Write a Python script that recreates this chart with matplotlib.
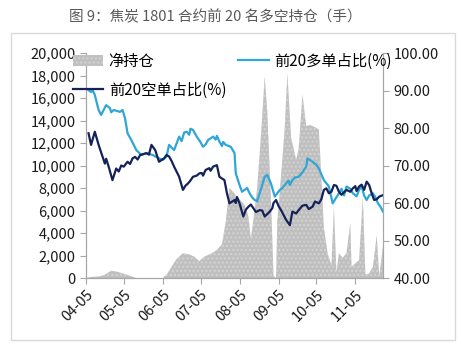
import pandas as pd
import matplotlib
matplotlib.use("Agg")
import matplotlib.pyplot as plt
import matplotlib.dates as mdates
from matplotlib.ticker import FuncFormatter
from matplotlib.patches import Rectangle

plt.rcParams['font.family'] = ['Noto Sans CJK SC', 'DejaVu Sans']

# 净持仓 (left axis, 手)
net_dates = ["04-05", "04-08", "04-16", "04-20", "04-25", "04-30", "05-06", "05-11", "05-15",
             "06-05", "06-08", "06-12", "06-16", "06-21", "06-26", "06-30", "07-04", "07-08",
             "07-14", "07-18", "07-22", "07-25", "07-28", "08-01", "08-05", "08-09", "08-12",
             "08-14", "08-17", "08-19", "08-22", "08-25", "08-27", "08-30", "09-01", "09-03",
             "09-04", "09-08", "09-10", "09-12", "09-15", "09-19", "09-21", "09-24", "09-27",
             "09-30", "10-04", "10-07", "10-09", "10-11", "10-14", "10-17", "10-19", "10-21",
             "10-23", "10-26", "10-29", "11-01", "11-02", "11-05", "11-08", "11-11", "11-13",
             "11-16", "11-19", "11-22", "11-24", "11-27"]
net_pos = [0, 80, 150, 300, 650, 550, 350, 150, 0,
           0, 300, 1000, 1700, 2200, 2100, 1900, 1500, 1900,
           2200, 2500, 3000, 5000, 8000, 7500, 7000, 6500, 5500,
           3500, 6000, 8000, 12600, 17900, 14900, 6900, 200, 0,
           5000, 10500, 13500, 18200, 12500, 10500, 11500, 16300, 13500,
           13600, 13400, 13200, 9000, 4500, 2200, 1100, 6300, 500,
           2200, 1800, 2200, 4900, 1000, 1300, 1600, 7200, 300,
           400, 1000, 3800, 200, 2800]

# 前20多单占比(%)
long_dates = ["04-07", "04-09", "04-10", "04-12", "04-15", "04-17", "04-21", "04-24", "04-25", "04-27",
              "05-02", "05-04", "05-06", "05-08", "05-11", "05-15", "05-19", "05-23", "05-28", "06-02",
              "06-05", "06-08", "06-10", "06-14", "06-18", "06-20", "06-22", "06-24", "06-26", "06-27",
              "06-29", "07-02", "07-05", "07-07", "07-09", "07-11", "07-15", "07-17", "07-18", "07-20",
              "07-22", "07-23", "07-25", "07-29", "08-01", "08-02", "08-05", "08-07", "08-09", "08-11",
              "08-13", "08-15", "08-17", "08-19", "08-21", "08-25", "08-27", "08-30", "09-02", "09-06",
              "09-08", "09-11", "09-13", "09-14", "09-16", "09-18", "09-21", "09-24", "09-27", "09-28",
              "10-02", "10-05", "10-07", "10-11", "10-15", "10-18", "10-20", "10-23", "10-25", "10-27",
              "10-29", "11-01", "11-03", "11-06", "11-08", "11-10", "11-12", "11-14", "11-16", "11-19",
              "11-21", "11-23", "11-25", "11-27"]
long_pct = [90.1, 89.6, 90.3, 88.8, 84.8, 83.5, 86.1, 85.3, 84.2, 84.8,
            84.3, 84.8, 82.6, 78.6, 76.8, 74.1, 72.8, 73.3, 72.8, 71.9,
            71.5, 72.4, 75.5, 74.1, 77.7, 76.5, 78.8, 79.0, 78.2, 79.8,
            79.5, 77.7, 76.2, 75.0, 75.6, 76.8, 77.7, 76.9, 77.9, 76.4,
            75.2, 76.3, 75.5, 75.0, 73.3, 67.9, 64.8, 63.0, 63.5, 64.0,
            62.6, 61.5, 60.8, 60.5, 62.6, 67.0, 67.5, 65.2, 61.7, 63.5,
            64.0, 65.2, 66.0, 64.8, 66.1, 66.8, 67.0, 68.2, 69.7, 71.9,
            71.0, 70.2, 69.2, 66.1, 64.4, 59.9, 61.0, 62.6, 63.8, 62.0,
            64.4, 63.8, 62.6, 61.8, 63.5, 64.5, 62.0, 60.8, 62.0, 62.6,
            61.5, 59.9, 59.0, 57.7]

# 前20空单占比(%)
short_dates = ["04-07", "04-09", "04-12", "04-15", "04-19", "04-20", "04-21", "04-23", "04-26", "04-29",
               "05-01", "05-03", "05-05", "05-08", "05-10", "05-12", "05-14", "05-16", "05-18", "05-20",
               "05-23", "05-25", "05-27", "05-30", "06-02", "06-06", "06-08", "06-10", "06-12", "06-14",
               "06-18", "06-21", "06-23", "06-25", "06-27", "06-29", "07-02", "07-04", "07-06", "07-07",
               "07-09", "07-12", "07-13", "07-15", "07-18", "07-20", "07-24", "07-26", "07-28", "08-01",
               "08-02", "08-03", "08-05", "08-08", "08-10", "08-12", "08-14", "08-16", "08-18", "08-21",
               "08-23", "08-25", "08-29", "08-31", "09-01", "09-03", "09-05", "09-07", "09-11", "09-14",
               "09-16", "09-19", "09-21", "09-24", "09-27", "09-29", "10-02", "10-04", "10-07", "10-09",
               "10-11", "10-13", "10-15", "10-17", "10-19", "10-21", "10-23", "10-25", "10-29", "11-01",
               "11-03", "11-05", "11-06", "11-08", "11-10", "11-12", "11-14", "11-16", "11-18", "11-20",
               "11-22", "11-24", "11-27"]
short_pct = [78.6, 75.5, 79.0, 75.5, 71.5, 70.5, 71.8, 69.7, 66.1, 69.2,
             68.4, 70.0, 69.7, 71.0, 70.4, 71.9, 72.3, 71.6, 72.8, 73.0,
             73.3, 72.9, 75.5, 74.1, 71.0, 71.9, 72.8, 72.4, 71.2, 69.7,
             67.0, 63.5, 64.6, 65.2, 66.0, 67.0, 67.3, 67.9, 68.0, 67.3,
             68.8, 69.3, 68.6, 69.7, 70.1, 67.0, 66.1, 62.6, 59.9, 60.8,
             60.0, 61.6, 59.9, 56.4, 58.2, 59.0, 59.6, 58.6, 57.6, 58.1,
             58.0, 56.4, 57.7, 58.6, 60.0, 60.8, 59.2, 58.1, 55.5, 54.1,
             57.7, 57.2, 58.1, 59.3, 59.5, 58.4, 59.0, 60.4, 59.9, 61.0,
             63.5, 63.9, 62.6, 63.0, 64.8, 64.6, 63.0, 62.2, 63.5, 63.0,
             63.9, 64.5, 63.2, 64.4, 64.9, 63.5, 65.7, 64.8, 62.6, 60.8,
             61.0, 61.7, 62.1]

tick_dates = ["04-05", "05-05", "06-05", "07-05", "08-05", "09-05", "10-05", "11-05"]


def to_dt(lst):
    return pd.to_datetime(["2017-" + d for d in lst])


fig = plt.figure(figsize=(4.61, 3.46), dpi=100)
fig.patches.append(Rectangle((0.024, 0.017), 0.963, 0.888, transform=fig.transFigure,
                             fill=False, edgecolor="#d9d9d9", linewidth=1))
fig.text(0.467, 0.95, "图 9：焦炭 1801 合约前 20 名多空持仓（手）", ha="center", va="center",
         fontsize=10.5, color="#595959")

ax = fig.add_axes([0.1866, 0.1965, 0.6442, 0.6503])
ax2 = ax.twinx()

area = ax.fill_between(to_dt(net_dates), net_pos, 0, facecolor="#bfbfbf", edgecolor="#d4d4d4",
                       hatch="....", linewidth=0, label="净持仓")
l_long, = ax2.plot(to_dt(long_dates), long_pct, color="#2fa6d6", linewidth=1.6, label="前20多单占比(%)")
l_short, = ax2.plot(to_dt(short_dates), short_pct, color="#142258", linewidth=1.6, label="前20空单占比(%)")

ax.set_ylim(0, 20000)
ax.set_yticks(range(0, 20001, 2000))
ax.yaxis.set_major_formatter(FuncFormatter(lambda v, p: f"{int(v):,}"))
ax2.set_ylim(40, 100)
ax2.set_yticks(range(40, 101, 10))
ax2.yaxis.set_major_formatter(FuncFormatter(lambda v, p: f"{v:.2f}"))

ax.set_xlim(pd.Timestamp("2017-04-05"), pd.Timestamp("2017-11-27"))
ax.set_xticks(to_dt(tick_dates))
ax.xaxis.set_major_formatter(mdates.DateFormatter("%m-%d"))
for lab in ax.get_xticklabels():
    lab.set_rotation(45)
    lab.set_ha("right")
    lab.set_rotation_mode("anchor")

for a in (ax, ax2):
    a.spines["top"].set_visible(False)
    for s in ("left", "right", "bottom"):
        a.spines[s].set_color("#a6a6a6")
    a.tick_params(colors="#a6a6a6", labelcolor="#1a1a1a", labelsize=10.5, length=4, width=0.8)
ax.tick_params(axis="x", pad=3)

fig.legend([area, l_short, l_long], ["净持仓", "前20空单占比(%)", "前20多单占比(%)"],
           ncol=2, loc="upper left", bbox_to_anchor=(0.158, 0.848), frameon=False,
           fontsize=11, handlelength=2.0, handletextpad=0.35, columnspacing=0.8,
           labelspacing=0.8, borderpad=0, borderaxespad=0)

fig.savefig("out.png", dpi=100)
